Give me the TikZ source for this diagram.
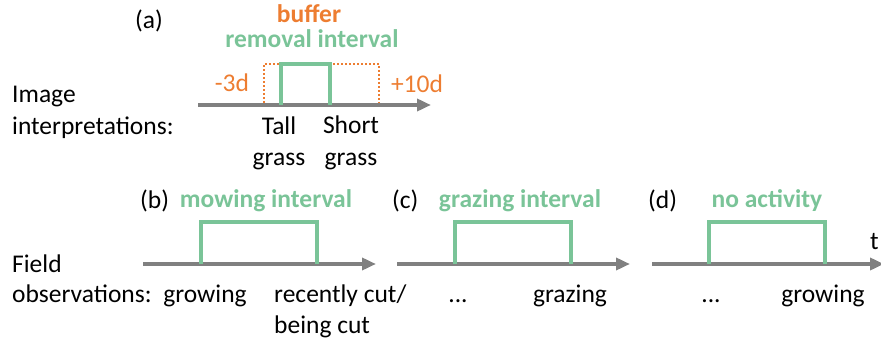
\documentclass[tikz,border=0pt]{standalone}
\usepackage{fontspec}
\setmainfont{Carlito}
\usetikzlibrary{arrows.meta}
\definecolor{intgreen}{RGB}{122,196,152}
\definecolor{buforange}{RGB}{237,125,49}
\definecolor{axisgray}{RGB}{128,128,128}
\tikzset{
  txt/.style={inner sep=0pt, anchor=base, font=\fontsize{25.5}{30}\selectfont, text=black},
  lefttxt/.style={txt, anchor=base west},
  greenlbl/.style={txt, font=\fontsize{25.5}{30}\selectfont\bfseries, text=intgreen},
  orangelbl/.style={txt, font=\fontsize{25.5}{30}\selectfont\bfseries, text=buforange},
  orangetxt/.style={txt, text=buforange},
  timeaxis/.style={axisgray, line width=3.5pt, -{Triangle[length=14pt,width=12pt]}},
  pulse/.style={intgreen, line width=3.5pt, line join=miter},
  bufferbox/.style={buforange, line width=2pt, dotted, line cap=butt},
}
\begin{document}
\begin{tikzpicture}[x=1pt,y=-1pt]
\useasboundingbox (0,0) rectangle (881,342);

% ---------- (a) image interpretations ----------
\node[lefttxt] (imgA) at (12,103) {Image};
\node[lefttxt] (imgB) at (12,135) {interpretations:};
\node[lefttxt] (labA) at (135,29) {(a)};
\node[orangelbl] (buf) at (309,23) {buffer};
\node[greenlbl] (remint) at (312,48) {removal interval};

\coordinate (a0) at (198,105);
\coordinate (a1) at (431,105);
\coordinate (aL) at (281,105);
\coordinate (aR) at (330,105);
\coordinate (bL) at (264,103);
\coordinate (bR) at (379,103);

\draw[bufferbox] (bL) |- (330,64) -| (bR);
\draw[bufferbox] (bL) |- (281,64);
\draw[timeaxis] (a0) -- (a1);
\draw[pulse] (aL) |- (330,64) -- (aR);

\node[orangetxt] (m3) at (232,92) {-3d};
\node[orangetxt] (p10) at (417,93) {+10d};
\node[txt] (tall1) at (279,135) {Tall};
\node[txt] (tall2) at (279,165) {grass};
\node[txt] (short1) at (351,134) {Short};
\node[txt] (short2) at (351,165) {grass};

% ---------- field observations ----------
\node[lefttxt] (fldA) at (12,272) {Field};
\node[lefttxt] (fldB) at (12,302) {observations:};

% (b) mowing
\node[lefttxt] (labB) at (140,208) {(b)};
\node[greenlbl] (mowint) at (266,207) {mowing interval};
\coordinate (b0) at (143,264);
\coordinate (b1) at (376,264);
\coordinate (bpL) at (201,264);
\coordinate (bpR) at (317,264);
\draw[timeaxis] (b0) -- (b1);
\draw[pulse] (bpL) |- (317,222) -- (bpR);
\node[txt] (grow1) at (205,302) {growing};
\node[lefttxt] (cut1) at (274,302) {recently cut/};
\node[lefttxt] (cut2) at (274,333) {being cut};

% (c) grazing
\node[lefttxt] (labC) at (392,208) {(c)};
\node[greenlbl] (grazint) at (520,207) {grazing interval};
\coordinate (c0) at (397,264);
\coordinate (c1) at (630,264);
\coordinate (cpL) at (455,264);
\coordinate (cpR) at (571,264);
\draw[timeaxis] (c0) -- (c1);
\draw[pulse] (cpL) |- (571,222) -- (cpR);
\node[txt] (dotsC) at (458,302) {...};
\node[txt] (graz) at (570,302) {grazing};

% (d) no activity
\node[lefttxt] (labD) at (648,208) {(d)};
\node[greenlbl] (noact) at (767,207) {no activity};
\coordinate (d0) at (652,264);
\coordinate (d1) at (884,264);
\coordinate (dpL) at (709,264);
\coordinate (dpR) at (825,264);
\draw[timeaxis] (d0) -- (d1);
\draw[pulse] (dpL) |- (825,222) -- (dpR);
\node[txt] (dotsD) at (711,302) {...};
\node[txt] (grow2) at (823,302) {growing};
\node[lefttxt] (tlab) at (870,249) {t};
\end{tikzpicture}
\end{document}
